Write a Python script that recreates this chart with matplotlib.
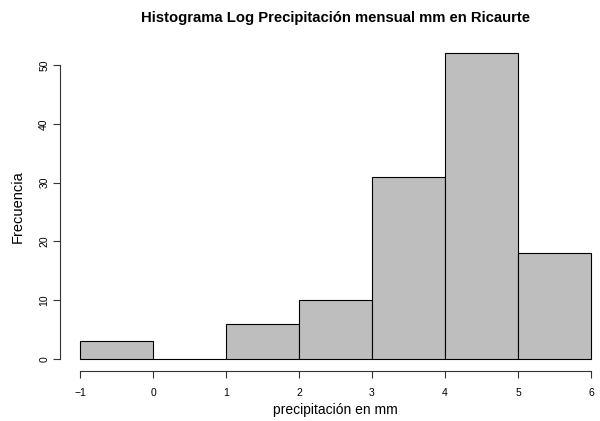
import matplotlib.pyplot as plt
import numpy as np

plt.rcParams['font.family'] = ['Liberation Sans', 'DejaVu Sans']

# clases del histograma (log precipitacion) y frecuencias
bordes = [-1, 0, 1, 2, 3, 4, 5, 6]
frecuencias = [3, 0, 6, 10, 31, 52, 18]
ticks_x = [-1, 0, 1, 2, 3, 4, 5, 6]
ticks_y = [0, 10, 20, 30, 40, 50]

fig = plt.figure(figsize=(6, 4.21), dpi=100)
ax = fig.add_axes([0.0993, 0.1183, 0.9197, 0.7843])

ax.bar(bordes[:-1], frecuencias, width=np.diff(bordes), align='edge',
       color='#BEBEBE', edgecolor='black', linewidth=0.8)

# rango estilo R (4% extra por lado)
ax.set_xlim(-1.28, 6.28)
ax.set_ylim(-2.08, 54.08)

ax.spines['top'].set_visible(False)
ax.spines['right'].set_visible(False)
ax.spines['bottom'].set_bounds(-1, 6)
ax.spines['left'].set_bounds(0, 50)
for s in ('bottom', 'left'):
    ax.spines[s].set_linewidth(0.8)
    ax.spines[s].set_color('#333333')

ax.set_xticks(ticks_x)
ax.set_yticks(ticks_y)
ax.tick_params(axis='both', length=5, width=0.8, color='#333333', labelsize=7.5)
ax.tick_params(axis='x', pad=7)
ax.tick_params(axis='y', pad=2.5)
ax.set_yticklabels([str(v) for v in ticks_y], rotation=90, va='center')

# textos al estilo de plot base de R
fig.text(0.559, 0.025, 'precipitación en mm', fontsize=10, ha='center', va='center')
fig.text(0.03, 0.51, 'Frecuencia', fontsize=10.5, rotation=90, ha='center', va='center')
fig.text(0.559, 0.957, 'Histograma Log Precipitación mensual mm en Ricaurte',
         fontsize=10.7, fontweight='bold', ha='center', va='center')

fig.savefig('out.png', dpi=100)
